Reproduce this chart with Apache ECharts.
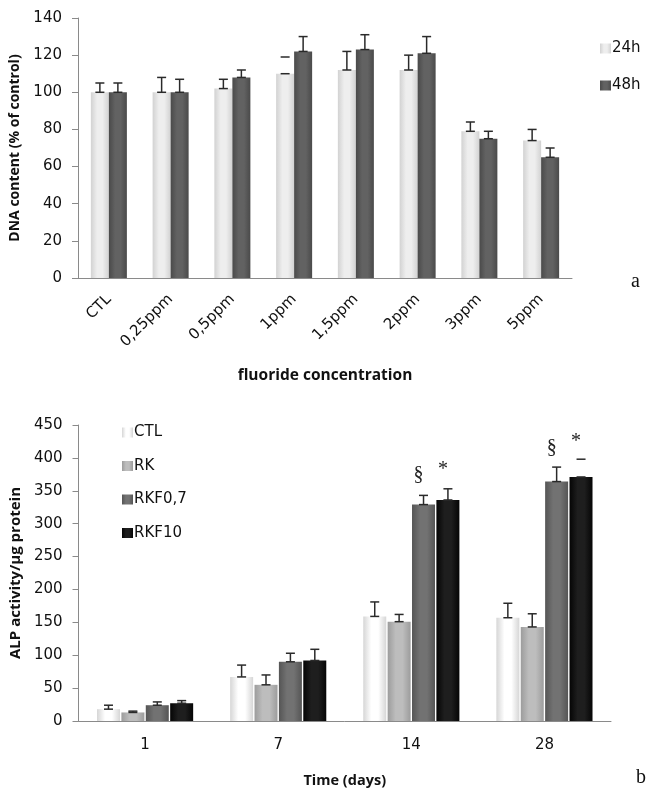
<!DOCTYPE html>
<html>
<head>
<meta charset="utf-8">
<script src="https://cdn.jsdelivr.net/npm/echarts@6/dist/echarts.min.js"></script>
<style>html,body{margin:0;padding:0;background:#fff}#c{width:647px;height:789px}</style>
</head>
<body>
<div id="c"></div>
<script>
// ---- Panel a: DNA content ----
const concCategories = ['CTL', '0,25ppm', '0,5ppm', '1ppm', '1,5ppm', '2ppm', '3ppm', '5ppm'];
const dna24h = [100, 100, 102, 110, 112, 112, 79, 74];
const dna24hErrTop = [105, 108, 107, 119, 122, 120, 84, 80];
const dna48h = [100, 100, 108, 122, 123, 121, 75, 65];
const dna48hErrTop = [105, 107, 112, 130, 131, 130, 79, 70];
const dnaTicks = [0, 20, 40, 60, 80, 100, 120, 140];

// ---- Panel b: ALP activity ----
const dayCategories = ['1', '7', '14', '28'];
const alpCTL = [18, 67, 159, 157];
const alpCTLErrTop = [24, 85, 181, 179];
const alpRK = [13, 55, 151, 143];
const alpRKErrTop = [15, 70, 162, 163];
const alpRKF07 = [24, 90, 329, 364];
const alpRKF07ErrTop = [29, 103, 343, 386];
const alpRKF10 = [27, 92, 336, 371];
const alpRKF10ErrTop = [31, 109, 353, 398];
const alpTicks = [0, 50, 100, 150, 200, 250, 300, 350, 400, 450];
// significance marks: [category, value, bar index, text]
const alpMarks = [[2, 374, 2, '§'], [2, 382, 3, '*'], [3, 416, 2, '§'], [3, 425, 3, '*']];
// error bars whose stem is not visible in the original (series key, category index)
const capOnly = [['24h', 3], ['RKF10', 3]];

const chart = echarts.init(document.getElementById('c'), null, {renderer: 'canvas'});
const FONT = "'DejaVu Sans', sans-serif";
const TFONT = "'Open Sans', 'Liberation Sans', sans-serif";

function grad(edge, mid) {
  return new echarts.graphic.LinearGradient(0, 0, 1, 0, [
    {offset: 0, color: edge}, {offset: 0.35, color: mid}, {offset: 0.65, color: mid}, {offset: 1, color: edge}
  ]);
}

function errSeries(name, xi, yi, vals, tops, offset) {
  const data = vals.map((v, i) => [i, v, tops[i]]);
  return {
    type: 'custom', xAxisIndex: xi, yAxisIndex: yi, z: 5, silent: true,
    data: data,
    renderItem: function (params, api) {
      const i = api.value(0);
      const p0 = api.coord([i, api.value(1)]);
      const p1 = api.coord([i, api.value(2)]);
      const x = p0[0] + offset;
      const hw = 4.5;
      const hide = capOnly.some(c => c[0] === name && c[1] === i);
      const style = {stroke: '#2a2a2a', lineWidth: 1.5};
      const children = [
        {type: 'line', shape: {x1: x - hw, y1: p1[1], x2: x + hw, y2: p1[1]}, style: style},
        {type: 'line', shape: {x1: x - hw, y1: p0[1], x2: x + hw, y2: p0[1]}, style: style}
      ];
      if (!hide) children.push({type: 'line', shape: {x1: x, y1: p0[1], x2: x, y2: p1[1]}, style: style});
      return {type: 'group', children: children};
    }
  };
}

// bottom bar offsets
const bw = 23, bg = 1.4;
const tot = 4 * bw + 3 * bg;
const offs = [0, 1, 2, 3].map(k => -tot / 2 + bw / 2 + k * (bw + bg));

const axisLabelStyle = {color: '#111', fontFamily: FONT, fontSize: 15};

const option = {
  animation: false,
  backgroundColor: '#fff',
  grid: [
    {left: 78, right: 75, top: 18, bottom: 511},
    {left: 78, right: 36, top: 425, bottom: 66}
  ],
  legend: [
    {
      orient: 'vertical', left: 595, top: 36, itemGap: 22, itemWidth: 11, itemHeight: 10,
      icon: 'rect', data: ['24h', '48h'],
      textStyle: {fontFamily: FONT, fontSize: 15, color: '#111', padding: [0, 0, 0, -4]}
    },
    {
      orient: 'vertical', left: 117, top: 420, itemGap: 18.5, itemWidth: 11, itemHeight: 10,
      icon: 'rect', data: ['CTL', 'RK', 'RKF0,7', 'RKF10'],
      textStyle: {fontFamily: FONT, fontSize: 15, color: '#111', padding: [0, 0, 0, -4]}
    }
  ],
  xAxis: [
    {
      gridIndex: 0, type: 'category', data: concCategories,
      name: 'fluoride concentration', nameLocation: 'middle', nameGap: 90,
      nameTextStyle: {fontFamily: TFONT, fontWeight: 'bold', fontSize: 15.5, color: '#111'},
      axisLine: {lineStyle: {color: '#8a8a8a', width: 1}},
      axisTick: {length: 7, lineStyle: {color: '#8a8a8a'}},
      axisLabel: Object.assign({rotate: 45, margin: 19, interval: 0}, axisLabelStyle)
    },
    {
      gridIndex: 1, type: 'category', data: dayCategories,
      name: 'Time (days)', nameLocation: 'middle', nameGap: 52,
      nameTextStyle: {fontFamily: TFONT, fontWeight: 'bold', fontSize: 14.5, color: '#111'},
      axisLine: {lineStyle: {color: '#8a8a8a', width: 1}},
      axisTick: {length: 7, lineStyle: {color: '#8a8a8a'}},
      axisLabel: Object.assign({margin: 17}, axisLabelStyle)
    }
  ],
  yAxis: [
    {
      gridIndex: 0, type: 'value', min: dnaTicks[0], max: dnaTicks[dnaTicks.length - 1], interval: 20,
      name: 'DNA content (% of control)', nameLocation: 'middle', nameGap: 47,
      nameTextStyle: {fontFamily: TFONT, fontWeight: 'bold', fontSize: 14, color: '#111'},
      axisLine: {show: true, lineStyle: {color: '#8a8a8a'}},
      axisTick: {show: true, length: 6, lineStyle: {color: '#8a8a8a'}},
      splitLine: {show: false},
      axisLabel: Object.assign({margin: 16}, axisLabelStyle)
    },
    {
      gridIndex: 1, type: 'value', min: alpTicks[0], max: alpTicks[alpTicks.length - 1], interval: 50,
      name: 'ALP activity/µg protein', nameLocation: 'middle', nameGap: 49,
      nameTextStyle: {fontFamily: TFONT, fontWeight: 'bold', fontSize: 15, color: '#111'},
      axisLine: {show: true, lineStyle: {color: '#8a8a8a'}},
      axisTick: {show: true, length: 6, lineStyle: {color: '#8a8a8a'}},
      splitLine: {show: false},
      axisLabel: Object.assign({margin: 16}, axisLabelStyle)
    }
  ],
  graphic: [
    {type: 'text', left: 631, top: 272, style: {text: 'a', font: "20px 'Liberation Serif', serif", fill: '#111'}},
    {type: 'text', left: 636, top: 768, style: {text: 'b', font: "20px 'Liberation Serif', serif", fill: '#111'}}
  ],
  series: [
    {
      name: '24h', type: 'bar', xAxisIndex: 0, yAxisIndex: 0, data: dna24h, barWidth: 18, barGap: '0%',
      itemStyle: {color: grad('#d2d2d2', '#eeeeee')}
    },
    {
      name: '48h', type: 'bar', xAxisIndex: 0, yAxisIndex: 0, data: dna48h, barWidth: 18, barGap: '0%',
      itemStyle: {color: grad('#4a4a4a', '#626262')}
    },
    errSeries('24h', 0, 0, dna24h, dna24hErrTop, -9),
    errSeries('48h', 0, 0, dna48h, dna48hErrTop, 9),
    {
      name: 'CTL', type: 'bar', xAxisIndex: 1, yAxisIndex: 1, data: alpCTL, barWidth: bw, barGap: '6%',
      itemStyle: {color: grad('#d6d6d6', '#ffffff')}
    },
    {
      name: 'RK', type: 'bar', xAxisIndex: 1, yAxisIndex: 1, data: alpRK, barWidth: bw, barGap: '6%',
      itemStyle: {color: grad('#9c9c9c', '#bdbdbd')}
    },
    {
      name: 'RKF0,7', type: 'bar', xAxisIndex: 1, yAxisIndex: 1, data: alpRKF07, barWidth: bw, barGap: '6%',
      itemStyle: {color: grad('#555555', '#727272')}
    },
    {
      name: 'RKF10', type: 'bar', xAxisIndex: 1, yAxisIndex: 1, data: alpRKF10, barWidth: bw, barGap: '6%',
      itemStyle: {color: grad('#050505', '#1e1e1e')}
    },
    errSeries('CTL', 1, 1, alpCTL, alpCTLErrTop, offs[0]),
    errSeries('RK', 1, 1, alpRK, alpRKErrTop, offs[1]),
    errSeries('RKF0,7', 1, 1, alpRKF07, alpRKF07ErrTop, offs[2]),
    errSeries('RKF10', 1, 1, alpRKF10, alpRKF10ErrTop, offs[3]),
    {
      type: 'custom', xAxisIndex: 1, yAxisIndex: 1, z: 6, silent: true,
      data: alpMarks,
      renderItem: function (params, api) {
        const p = api.coord([api.value(0), api.value(1)]);
        const k = api.value(2);
        return {
          type: 'text',
          style: {
            text: alpMarks[params.dataIndex][3], x: p[0] + offs[k] - 5, y: p[1],
            align: 'center', verticalAlign: 'middle',
            font: "20px 'Liberation Serif', serif", fill: '#222'
          }
        };
      }
    }
  ]
};
chart.setOption(option);
</script>
</body>
</html>
